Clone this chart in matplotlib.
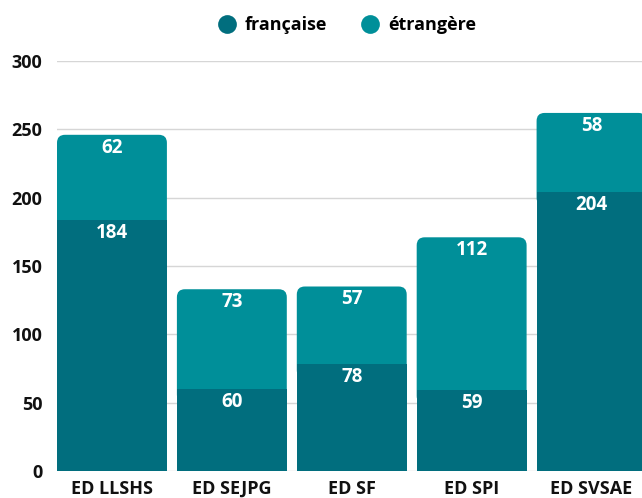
import matplotlib
matplotlib.use("Agg")
import matplotlib.pyplot as plt
from matplotlib.patches import FancyBboxPatch
from matplotlib.lines import Line2D

# data
categories = ["ED LLSHS", "ED SEJPG", "ED SF", "ED SPI", "ED SVSAE"]
francaise = [184, 60, 78, 59, 204]
etrangere = [62, 73, 57, 112, 58]

col_fr = "#016e7e"
col_et = "#008f99"

plt.rcParams["font.family"] = ["Open Sans", "DejaVu Sans"]
plt.rcParams["font.weight"] = "bold"

W, H = 642, 498
fig = plt.figure(figsize=(W / 100, H / 100), dpi=100)
# axes: x from 57 to 642 px, y from 471 (0) to 61 (300)
ax = fig.add_axes([57 / W, (H - 471) / H, (642 - 57) / W, (471 - 61) / H])

width = 110 / 120
x = list(range(len(categories)))
ax.set_xlim(-width / 2, 4 + (642 - 591.5) / 120)
ax.set_ylim(0, 300)

# y-units per pixel vs x-units per pixel, for round corners
px_x = 1 / 120
px_y = 300 / 410
radius = 8 * px_x
aspect = px_y / px_x

for i, (f, e) in enumerate(zip(francaise, etrangere)):
    # top segment with rounded top corners, extended down behind bottom bar
    top = f + e
    patch = FancyBboxPatch((i - width / 2, f - 10), width, top - (f - 10),
                           boxstyle=f"round,pad=0,rounding_size={radius}",
                           mutation_aspect=aspect, facecolor=col_et,
                           edgecolor="none", zorder=2)
    ax.add_patch(patch)

ax.bar(x, francaise, width=width, color=col_fr, zorder=3, linewidth=0)

for i, (f, e) in enumerate(zip(francaise, etrangere)):
    ax.text(i, f - 13 * px_y, str(f), ha="center", va="center",
            color="white", fontsize=13.5, fontweight="bold", zorder=4)
    ax.text(i, f + e - 13 * px_y, str(e), ha="center", va="center",
            color="white", fontsize=13.5, fontweight="bold", zorder=4)

ax.set_yticks([0, 50, 100, 150, 200, 250, 300])
ax.set_xticks(x)
ax.set_xticklabels(categories)
ax.tick_params(axis="both", length=0, labelsize=13)
ax.tick_params(axis="y", pad=10.5)
ax.tick_params(axis="x", pad=6.5)
for lab in ax.get_xticklabels() + ax.get_yticklabels():
    lab.set_fontweight("bold")
    lab.set_color("#111111")
ax.yaxis.grid(True, color="#d6d6d6", linewidth=1, zorder=0)
ax.set_axisbelow(True)
for s in ax.spines.values():
    s.set_visible(False)

handles = [Line2D([], [], marker="o", linestyle="none", markersize=13.5,
                  markerfacecolor=col_fr, markeredgecolor="none"),
           Line2D([], [], marker="o", linestyle="none", markersize=13.5,
                  markerfacecolor=col_et, markeredgecolor="none")]
fig.legend(handles, ["française", "étrangère"], loc="center",
           bbox_to_anchor=(347 / W, 1 - 25 / H), ncol=2, frameon=False,
           prop={"weight": "bold", "size": 13}, handletextpad=0.5,
           columnspacing=1.9, handlelength=1.0)

fig.savefig("out.png", dpi=100)
